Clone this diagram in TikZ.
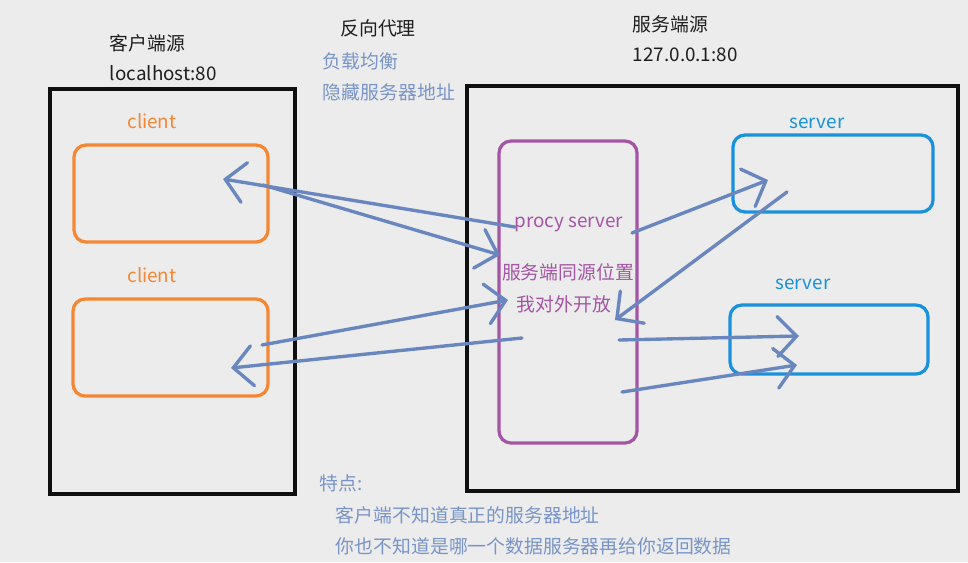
\documentclass[tikz,border=0pt]{standalone}
\usepackage{fontspec}
\setmainfont{Noto Sans CJK SC}
\usetikzlibrary{arrows.meta}

\definecolor{bgcol}{RGB}{236,236,236}
\definecolor{boxblack}{RGB}{15,15,15}
\definecolor{clientorange}{RGB}{245,135,50}
\definecolor{proxypurple}{RGB}{165,85,165}
\definecolor{serverblue}{RGB}{25,145,220}
\definecolor{arrowblue}{RGB}{105,135,190}
\definecolor{notegray}{RGB}{120,148,200}
\definecolor{titletext}{RGB}{30,30,30}

\tikzset{
  every node/.style={font=\fontsize{13.4pt}{16pt}\selectfont},
  outerbox/.style={draw=boxblack, line width=2.6pt},
  clientbox/.style={draw=clientorange, line width=2.3pt, rounded corners=3mm},
  proxybox/.style={draw=proxypurple, line width=2.3pt, rounded corners=3mm},
  serverbox/.style={draw=serverblue, line width=2.3pt, rounded corners=3mm},
  flow/.style={draw=arrowblue, line width=2.4pt, line cap=round,
    -{Straight Barb[length=4.8mm, width=10mm, line cap=round]}},
}

\begin{document}
\begin{tikzpicture}[x=0.25mm, y=-0.25mm]
  \fill[bgcol] (0,0) rectangle (968,562);
  \useasboundingbox (0,0) rectangle (968,562);

  % boxes
  \node[outerbox, minimum width=61.25mm, minimum height=101.25mm] (CS) at (172.5,291.5) {};
  \node[outerbox, minimum width=122.75mm, minimum height=101.25mm] (SS) at (712.5,288.5) {};
  \node[clientbox, minimum width=48.5mm, minimum height=24.25mm] (C1) at (171,193.5) {};
  \node[clientbox, minimum width=48.75mm, minimum height=24.25mm] (C2) at (170.5,347.5) {};
  \node[proxybox, minimum width=34.5mm, minimum height=75.5mm] (P) at (568,292) {};
  \node[serverbox, minimum width=50mm, minimum height=19.25mm] (S1) at (833,173.5) {};
  \node[serverbox, minimum width=49.5mm, minimum height=17.25mm] (S2) at (829,339.5) {};

  % texts
  \node[anchor=west, text=titletext] (CSt) at (105,43) {客户端源};
  \node[anchor=west, text=titletext] (CSp) at (105,73) {localhost:80};
  \node[text=titletext] (RPt) at (378,28) {反向代理};
  \node[anchor=west, text=notegray] (RP1) at (318,61) {负载均衡};
  \node[anchor=west, text=notegray] (RP2) at (318,92) {隐藏服务器地址};
  \node[anchor=west, text=titletext] (SSt) at (628,24) {服务端源};
  \node[anchor=west, text=titletext] (SSp) at (628,55) {127.0.0.1:80};

  \node[text=clientorange] (C1t) at (152,121) {client};
  \node[text=clientorange] (C2t) at (152,275) {client};
  \node[text=proxypurple] (Pt) at (569,224) {procy server};
  \node[text=proxypurple] (Pt2) at (568,272) {服务端同源位置};
  \node[text=proxypurple] (Pt3) at (564,304) {我对外开放};
  \node[text=serverblue] (S1t) at (817,123) {server};
  \node[text=serverblue] (S2t) at (803,284) {server};

  \node[anchor=west, text=notegray] (N0) at (315,483) {特点:};
  \node[anchor=west, text=notegray] (N1) at (331,515) {客户端不知道真正的服务器地址};
  \node[anchor=west, text=notegray] (N2) at (331,546) {你也不知道是哪一个数据服务器再给你返回数据};

  % arrow ends
  \coordinate (P2C1) at (515,227);
  \coordinate (C1in) at (223,179);
  \coordinate (C12P) at (263,185);
  \coordinate (Pin1) at (500,255);
  \coordinate (C22P) at (262,345);
  \coordinate (Pin2) at (508,300);
  \coordinate (P2C2) at (522,338);
  \coordinate (C2in) at (231,368);
  \coordinate (P2S1) at (632,233);
  \coordinate (S1in) at (768,180);
  \coordinate (S12P) at (787,192);
  \coordinate (Pin3) at (615,320);
  \coordinate (P2S2a) at (619,340);
  \coordinate (S2ina) at (799,336);
  \coordinate (P2S2b) at (622,392);
  \coordinate (S2inb) at (797,365);

  \draw[flow] (P2C1) -- (C1in);
  \draw[flow] (C12P) -- (Pin1);
  \draw[flow] (C22P) -- (Pin2);
  \draw[flow] (P2C2) -- (C2in);
  \draw[flow] (P2S1) -- (S1in);
  \draw[flow] (S12P) -- (Pin3);
  \draw[flow] (P2S2a) -- (S2ina);
  \draw[flow] (P2S2b) -- (S2inb);
\end{tikzpicture}
\end{document}
